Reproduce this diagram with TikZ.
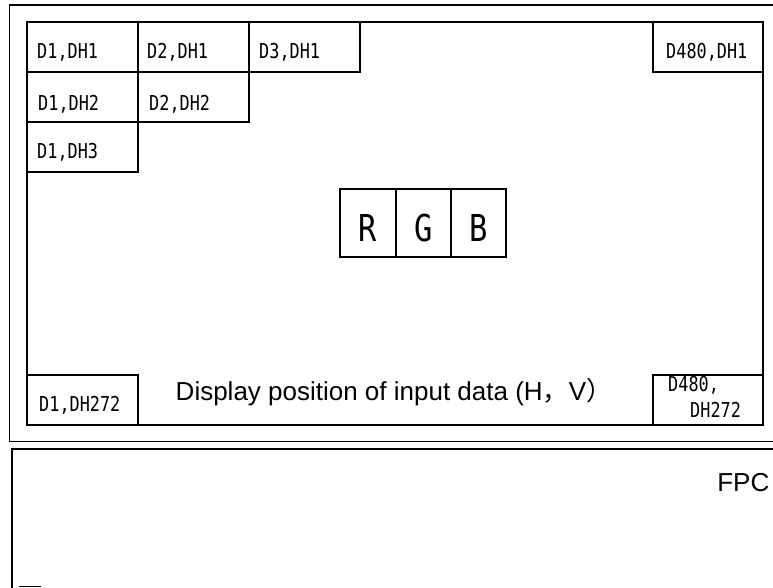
\documentclass[tikz,border=0pt]{standalone}
\usepackage{fontspec}
\setmainfont{Liberation Sans}
\newfontfamily\goth[FakeStretch=0.82]{DejaVu Sans Mono}
\newfontfamily\cjk{Noto Sans CJK JP}
\begin{document}
\begin{tikzpicture}[x=0.75pt,y=-0.75pt,line width=1.1pt,
  cell/.style={draw,line width=1.1pt,minimum width=83.25pt,minimum height=37.5pt,inner sep=0pt,outer sep=0pt,anchor=north west},
  panel/.style={draw,line width=1.1pt,inner sep=0pt,outer sep=0pt,anchor=north west},
  celltext/.style={font=\goth\fontsize{15.4pt}{18pt}\selectfont,inner sep=0pt,anchor=base west},
  rgbbox/.style={draw,line width=1.1pt,minimum height=51pt,inner sep=0pt,outer sep=0pt,anchor=north west,
    font=\goth\fontsize{27.8pt}{30pt}\selectfont,text height=28.2pt,text depth=0pt},
  bigtext/.style={font=\fontsize{19.5pt}{22pt}\selectfont,inner sep=0pt,anchor=base west}]
\useasboundingbox (0,0) rectangle (773,587);
% outer frame (cut off at the right)
\draw (780,5) -- (9.5,5) -- (9.5,441.5) -- (780,441.5);
% lower FPC frame
\draw (780,449) -- (12,449) -- (12,595);
\draw (19,586.5) -- (41,586.5);
% display panel
\node[panel,minimum width=552pt,minimum height=302.25pt] (disp) at (27,22) {};
% cells
\node[cell] (c11) at (27,22) {};
\node[cell] (c21) at (138,22) {};
\node[cell] (c31) at (249,22) {};
\node[cell,minimum width=82.5pt] (c4801) at (653,22) {};
\node[cell] (c12) at (27,72) {};
\node[cell] (c22) at (138,72) {};
\node[cell] (c13) at (27,122) {};
\node[cell] (c1272) at (27,375) {};
\node[cell,minimum width=82.5pt] (c480272) at (653,375) {};
% cell texts
\node[celltext] (t11) at (36.5,58.3) {D1,DH1};
\node[celltext] (t21) at (146.5,58.3) {D2,DH1};
\node[celltext] (t31) at (258.5,58.3) {D3,DH1};
\node[celltext] (t4801) at (665.5,58.3) {D480,DH1};
\node[celltext] (t12) at (37.5,110) {D1,DH2};
\node[celltext] (t22) at (148.5,110) {D2,DH2};
\node[celltext] (t13) at (36.5,158.3) {D1,DH3};
\node[celltext] (t1272) at (38.5,411.7) {D1,DH272};
\node[celltext] (t480a) at (667.5,391.7) {D480,};
\node[celltext] (t480b) at (689.5,417.3) {DH272};
% RGB
\node[rgbbox,minimum width=42pt] (r) at (340,189) {R};
\node[rgbbox,minimum width=41.25pt] (g) at (396,189) {G};
\node[rgbbox,minimum width=41.25pt] (b) at (451,189) {B};
% captions
\node[bigtext] (cap) at (175,400) {Display position of input data (H{\cjk ，}V{\cjk ）}};
\node[bigtext,anchor=base east] (fpc) at (770,491.7) {FPC};
\end{tikzpicture}
\end{document}
